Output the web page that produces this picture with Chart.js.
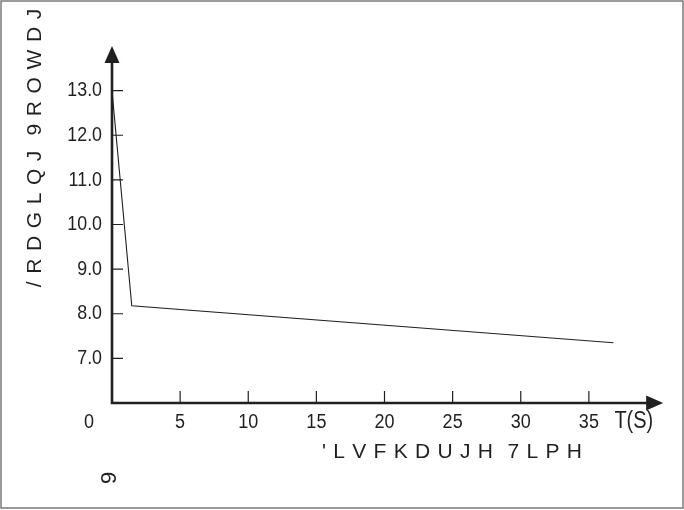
<!DOCTYPE html>
<html>
<head>
<meta charset="utf-8">
<script src="https://cdn.jsdelivr.net/npm/chart.js@4"></script>
<style>
html,body{margin:0;padding:0;background:#fff;}
#wrap{width:684px;height:510px;position:relative;}
</style>
</head>
<body>
<div id="wrap"><canvas id="c"></canvas></div>
<script>
// Data
const timeS = [0, 1.45, 36.8];
const voltage = [13.0, 8.18, 7.35];
const yTickValues = [7, 8, 9, 10, 11, 12, 13];
const xTickValues = [5, 10, 15, 20, 25, 30, 35];
const yTitle = "/RDGLQJ 9ROWDJ";
const xTitle = "'LVFKDUJH 7LPH";
const xUnit = "T(S)";
const yUnit = "9";
const originLabel = "0";

const INK = '#231f20';
const FONT = "'Liberation Sans', Arial, sans-serif";
const X_PAD = 8, X_SIZE = 18, X_STRETCH = 1.15;
const Y_PAD = 10, Y_SIZE = 20.5, Y_SQUEEZE = 0.87;

function spacedText(ctx, text, cx, cy, spacing) {
  const chars = Array.from(text);
  const widths = chars.map(ch => (ch === ' ' ? 0 : ctx.measureText(ch).width));
  const total = widths.reduce((a, b) => a + b, 0) + spacing * (chars.length - 1);
  let x = cx - total / 2;
  ctx.textAlign = 'left';
  ctx.textBaseline = 'middle';
  chars.forEach((ch, i) => { if (ch !== ' ') ctx.fillText(ch, x, cy); x += widths[i] + spacing; });
}

function wrapLabels(s, kind) {
  if (s._wrappedLabels) return;
  s._wrappedLabels = true;
  const orig = s.drawLabels;
  s.drawLabels = function (ca) {
    const ctx = this.ctx;
    ctx.save();
    if (kind === 'y') {
      const R = this.right - Y_PAD;
      ctx.translate(R, 0); ctx.scale(Y_SQUEEZE, 1); ctx.translate(-R, 0);
    } else {
      const cy = this.top + X_PAD + X_SIZE * 1.2 / 2;
      ctx.translate(0, cy); ctx.scale(1, X_STRETCH); ctx.translate(0, -cy);
    }
    orig.call(this, ca);
    ctx.restore();
  };
}

const decor = {
  id: 'decor',
  afterDraw(chart) {
    const ctx = chart.ctx;
    const xs = chart.scales.x, ys = chart.scales.y;
    const ox = xs.getPixelForValue(0), oy = ys.getPixelForValue(6);
    const yTop = ys.getPixelForValue(14);
    const xEnd = xs.getPixelForValue(40.45);
    ctx.save();
    ctx.strokeStyle = INK; ctx.fillStyle = INK;
    // axes
    ctx.lineWidth = 2.6;
    ctx.beginPath();
    ctx.moveTo(ox, yTop + 12); ctx.lineTo(ox, oy + 1.3);
    ctx.moveTo(ox - 1.3, oy); ctx.lineTo(xEnd - 12, oy);
    ctx.stroke();
    // arrowheads
    ctx.beginPath();
    ctx.moveTo(ox, yTop); ctx.lineTo(ox - 7.5, yTop + 17); ctx.lineTo(ox + 7.5, yTop + 17); ctx.closePath();
    ctx.fill();
    ctx.beginPath();
    ctx.moveTo(xEnd, oy); ctx.lineTo(xEnd - 17, oy - 7.5); ctx.lineTo(xEnd - 17, oy + 7.5); ctx.closePath();
    ctx.fill();
    // ticks
    ctx.lineWidth = 1.2;
    ctx.beginPath();
    yTickValues.forEach(v => { const p = ys.getPixelForValue(v); ctx.moveTo(ox, p); ctx.lineTo(ox + 11, p); });
    xTickValues.forEach(v => { const p = xs.getPixelForValue(v); ctx.moveTo(p, oy); ctx.lineTo(p, oy - 12); });
    ctx.stroke();
    // extra labels in the x-label row
    const rowY = oy + X_PAD + X_SIZE * 1.2 / 2;
    ctx.save();
    ctx.translate(0, rowY); ctx.scale(1, X_STRETCH); ctx.translate(0, -rowY);
    ctx.textAlign = 'center'; ctx.textBaseline = 'middle';
    ctx.font = X_SIZE + 'px ' + FONT;
    ctx.fillText(originLabel, ox - 23, rowY);
    ctx.font = '20px ' + FONT;
    ctx.fillText(xUnit, xs.getPixelForValue(38.3), rowY);
    ctx.restore();
    // axis titles
    ctx.font = '21px ' + FONT;
    spacedText(ctx, xTitle, 452, 452, 7.3);
    ctx.save();
    ctx.translate(35, 148);
    ctx.rotate(-Math.PI / 2);
    spacedText(ctx, yTitle, 0, 0, 7.6);
    ctx.restore();
    ctx.save();
    ctx.translate(110, 478);
    ctx.rotate(-Math.PI / 2);
    ctx.font = '22px ' + FONT;
    ctx.textAlign = 'center'; ctx.textBaseline = 'middle';
    ctx.fillText(yUnit, 0, 0);
    ctx.restore();
    // frame
    ctx.strokeStyle = '#7a7a7a';
    ctx.lineWidth = 1.5;
    ctx.strokeRect(1, 1, 682, 507);
    ctx.restore();
  }
};

new Chart(document.getElementById('c'), {
  type: 'line',
  data: {
    datasets: [{
      data: timeS.map((t, i) => ({ x: t, y: voltage[i] })),
      borderColor: INK,
      borderWidth: 1.1,
      pointRadius: 0,
      fill: false,
      tension: 0
    }]
  },
  options: {
    responsive: true,
    maintainAspectRatio: false,
    animation: false,
    devicePixelRatio: 1,
    layout: { padding: { top: 46, right: 27, left: 0, bottom: 0 } },
    plugins: { legend: { display: false }, tooltip: { enabled: false } },
    scales: {
      x: {
        type: 'linear', min: 0, max: 40,
        border: { display: false },
        grid: { display: false, drawTicks: false },
        afterFit(s) { s.height = 107; wrapLabels(s, 'x'); },
        ticks: {
          stepSize: 5, padding: X_PAD, color: INK, maxRotation: 0, autoSkip: false,
          font: { size: X_SIZE, family: FONT },
          callback: v => (xTickValues.includes(v) ? String(v) : '')
        }
      },
      y: {
        type: 'linear', min: 6, max: 14,
        border: { display: false },
        grid: { display: false, drawTicks: false },
        afterFit(s) { s.width = 112; wrapLabels(s, 'y'); },
        ticks: {
          stepSize: 1, padding: Y_PAD, color: INK, autoSkip: false,
          font: { size: Y_SIZE, family: FONT },
          callback: v => (yTickValues.includes(v) ? v.toFixed(1) : '')
        }
      }
    }
  },
  plugins: [decor]
});
</script>
</body>
</html>
